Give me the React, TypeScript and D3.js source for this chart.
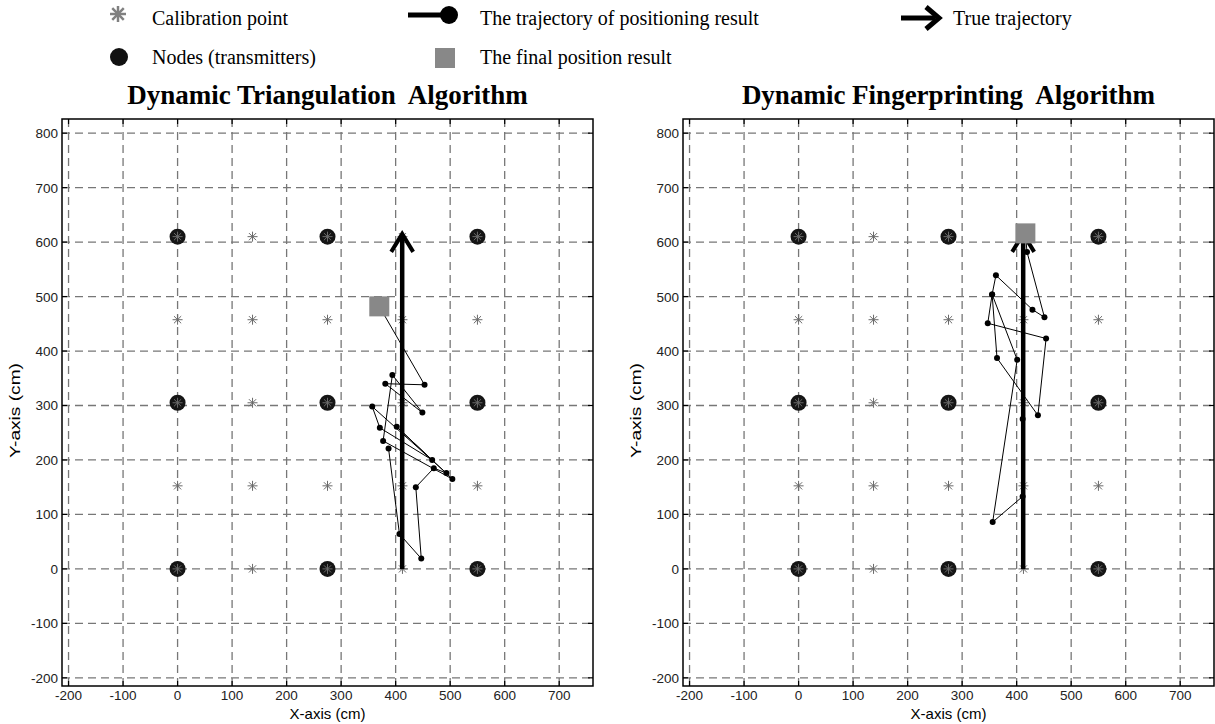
import React from "react";
import * as d3 from "d3";

// calibration grid and transmitter nodes (cm)
const calibX = [0, 137.5, 275, 412.5, 550];
const calibY = [0, 152.5, 305, 457.5, 610];
const nodeX = [0, 275, 550];
const nodeY = [0, 305, 610];

// true trajectory (start -> end)
const trueX = [412, 412];
const trueY = [0, 617];

// positioning results, triangulation
const triX = [387, 407, 447, 437, 470, 493, 357, 371, 467, 402, 504, 377, 394, 449, 381, 453, 370];
const triY = [221, 64, 19, 150, 185, 176, 298, 259, 200, 261, 165, 235, 356, 287, 340, 338, 482];

// positioning results, fingerprinting
const fpX = [411, 411, 356, 401, 355, 364, 439, 454, 347, 355, 362, 429, 451, 419, 416];
const fpY = [275, 133, 86, 384, 504, 387, 282, 423, 451, 504, 539, 476, 462, 582, 616];

const xTicks = [-200, -100, 0, 100, 200, 300, 400, 500, 600, 700];
const yTicks = [-200, -100, 0, 100, 200, 300, 400, 500, 600, 700, 800];

const serif = "'Liberation Serif', 'Times New Roman', serif";
const sans = "'Liberation Sans', Arial, sans-serif";

const Star = ({ x, y, r, color, sw }) => {
  const d = r * 0.72;
  return (
    <g stroke={color} strokeWidth={sw}>
      <line x1={x - r} y1={y} x2={x + r} y2={y} />
      <line x1={x} y1={y - r} x2={x} y2={y + r} />
      <line x1={x - d} y1={y - d} x2={x + d} y2={y + d} />
      <line x1={x - d} y1={y + d} x2={x + d} y2={y - d} />
    </g>
  );
};

const Panel = ({ left, right, title, xs, ys }) => {
  const top = 119;
  const bottom = 686;
  const x = d3.scaleLinear().domain([-212, 762]).range([left, right]);
  const y = d3.scaleLinear().domain([-215, 826]).range([bottom, top]);
  const line = d3
    .line()
    .x((d) => x(d[0]))
    .y((d) => y(d[1]));
  const pts = xs.map((v, i) => [v, ys[i]]);
  const last = pts[pts.length - 1];
  const tip = [x(trueX[1]), y(trueY[1])];

  return (
    <g>
      <text
        x={(left + right) / 2}
        y={104}
        textAnchor="middle"
        fontFamily={serif}
        fontWeight="bold"
        fontSize={27}
        style={{ whiteSpace: "pre" }}
      >
        {title}
      </text>

      {/* grid */}
      <g stroke="#777" strokeWidth={1.3} strokeDasharray="8,5">
        {xTicks.map((t) => (
          <line key={"gx" + t} x1={x(t)} x2={x(t)} y1={top} y2={bottom} />
        ))}
        {yTicks.map((t) => (
          <line key={"gy" + t} x1={left} x2={right} y1={y(t)} y2={y(t)} />
        ))}
      </g>

      {/* frame + inward ticks */}
      <rect x={left} y={top} width={right - left} height={bottom - top} fill="none" stroke="#000" strokeWidth={1.5} />
      <g stroke="#000" strokeWidth={1.2}>
        {xTicks.map((t) => (
          <g key={"tx" + t}>
            <line x1={x(t)} x2={x(t)} y1={bottom} y2={bottom - 5} />
            <line x1={x(t)} x2={x(t)} y1={top} y2={top + 5} />
          </g>
        ))}
        {yTicks.map((t) => (
          <g key={"ty" + t}>
            <line x1={left} x2={left + 5} y1={y(t)} y2={y(t)} />
            <line x1={right} x2={right - 5} y1={y(t)} y2={y(t)} />
          </g>
        ))}
      </g>

      {/* tick labels */}
      <g fontFamily={sans} fontSize={13.5} fill="#222">
        {xTicks.map((t) => (
          <text key={"lx" + t} x={x(t)} y={700} textAnchor="middle">
            {t}
          </text>
        ))}
        {yTicks.map((t) => (
          <text key={"ly" + t} x={left - 4} y={y(t) + 5} textAnchor="end">
            {t}
          </text>
        ))}
      </g>
      <text x={(left + right) / 2} y={719} textAnchor="middle" fontFamily={sans} fontSize={15}>
        X-axis (cm)
      </text>
      <text
        transform={`translate(${left - 42},${(top + bottom) / 2 + 8}) rotate(-90)`}
        textAnchor="middle"
        fontFamily={sans}
        fontSize={15}
        textLength={95}
        lengthAdjust="spacingAndGlyphs"
      >
        Y-axis (cm)
      </text>

      {/* nodes */}
      {nodeX.flatMap((nx) =>
        nodeY.map((ny) => <circle key={`n${nx}-${ny}`} cx={x(nx)} cy={y(ny)} r={8} fill="#151515" />)
      )}
      {/* calibration points */}
      {calibX.flatMap((cx) =>
        calibY.map((cy) => <Star key={`c${cx}-${cy}`} x={x(cx)} y={y(cy)} r={5} color="#6a6a6a" sw={1} />)
      )}

      {/* true trajectory */}
      <line x1={x(trueX[0])} y1={y(trueY[0])} x2={tip[0]} y2={tip[1] + 2} stroke="#000" strokeWidth={4.5} />
      <polyline
        points={`${tip[0] - 11},${tip[1] + 19} ${tip[0]},${tip[1] + 1} ${tip[0] + 11},${tip[1] + 19}`}
        fill="none"
        stroke="#000"
        strokeWidth={4}
        strokeLinejoin="miter"
      />

      {/* positioning trajectory */}
      <path d={line(pts)} fill="none" stroke="#000" strokeWidth={1} />
      {pts.slice(0, -1).map((p, i) => (
        <circle key={"p" + i} cx={x(p[0])} cy={y(p[1])} r={3} fill="#000" />
      ))}
      <rect x={x(last[0]) - 10} y={y(last[1]) - 10} width={20} height={20} fill="#888" />
    </g>
  );
};

const LegendText = ({ x, y, children }) => (
  <text x={x} y={y} fontFamily={serif} fontSize={20}>
    {children}
  </text>
);

export default function App() {
  return (
    <svg
      width={1215}
      height={724}
      style={{ position: "absolute", left: 0, top: 0, background: "#fff" }}
    >
      {/* legend */}
      <Star x={118} y={14} r={8} color="#808080" sw={2.5} />
      <LegendText x={152} y={25}>Calibration point</LegendText>
      <circle cx={119} cy={57} r={9} fill="#111" />
      <LegendText x={152} y={64}>Nodes (transmitters)</LegendText>

      <line x1={408} x2={449} y1={15} y2={15} stroke="#000" strokeWidth={5} />
      <circle cx={449} cy={15} r={9} fill="#000" />
      <LegendText x={480} y={25}>The trajectory of positioning result</LegendText>
      <rect x={435} y={48} width={20} height={20} fill="#888" />
      <LegendText x={480} y={64}>The final position result</LegendText>

      <line x1={901} x2={935} y1={18} y2={18} stroke="#000" strokeWidth={5} />
      <polyline points="926,7 939,18 926,29" fill="none" stroke="#000" strokeWidth={5} />
      <LegendText x={953} y={25}>True trajectory</LegendText>

      <Panel left={62} right={593} title="Dynamic Triangulation  Algorithm" xs={triX} ys={triY} />
      <Panel left={683} right={1214} title="Dynamic Fingerprinting  Algorithm" xs={fpX} ys={fpY} />
    </svg>
  );
}
